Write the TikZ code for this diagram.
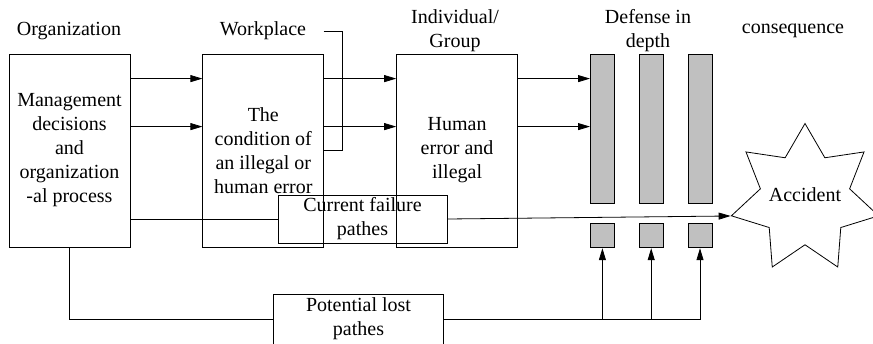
\documentclass[tikz,border=0pt]{standalone}
\usepackage{fontspec}
\setmainfont{Liberation Serif}
\usepackage{xcolor}
\usetikzlibrary{arrows.meta, positioning, shapes.geometric}
\definecolor{bargray}{RGB}{192,192,192}

\begin{document}
\begin{tikzpicture}[x=1pt, y=-1pt,
    font=\rmfamily\fontsize{20}{24}\selectfont,
    box/.style={rectangle, draw, line width=0.8pt, align=center, minimum width=121pt, minimum height=193pt, inner sep=0pt},
    bar/.style={rectangle, draw, fill=bargray, line width=0.8pt, minimum width=24pt, minimum height=149pt, inner sep=0pt},
    plug/.style={bar, minimum height=24pt},
    tag/.style={rectangle, draw, line width=0.8pt, align=center, minimum width=169pt, minimum height=48pt, inner sep=0pt},
    wire/.style={line width=0.8pt},
    arrow/.style={-{Triangle[length=12pt, width=7pt]}, line width=0.8pt}
]
\useasboundingbox (0,0) rectangle (873,343);

% headings
\node (orglabel) at (69,31) {Organization};
\node (wlabel) at (263,31) {Workplace};
\node[align=center] (ilabel) at (455,31) {Individual/\\Group};
\node[align=center] (dlabel) at (648,31) {Defense in\\depth};
\node (clabel) at (793,31) {consequence};

% main boxes
\node[box] (org) at (69.5,150.5) {Management\\decisions\\and\\organization\\-al process};
\node[box, right=72pt of org] (work) {The\\condition of\\an illegal or\\human error};
\node[box, right=72pt of work] (indiv) {Human\\error and\\illegal};

% defense layers
\node[bar, right=72pt of indiv.north east, anchor=north west] (bar1) {};
\node[bar, right=24pt of bar1] (bar2) {};
\node[bar, right=24pt of bar2] (bar3) {};
\node[plug, below=20pt of bar1] (sq1) {};
\node[plug, below=20pt of bar2] (sq2) {};
\node[plug, below=20pt of bar3] (sq3) {};

\node[star, star points=7, star point ratio=1.65, draw, line width=0.8pt, minimum size=151pt, inner sep=0pt,
      label={[yshift=4pt]center:Accident}] (acc) at (805,199) {};

% failure paths
\node[tag] (cur) at (362.5,219) {Current failure\\pathes};
\node[align=center, minimum width=169pt, minimum height=48pt, inner sep=0pt] (pot) at (358.5,319) {Potential lost\\pathes};
\draw[wire] ([yshift=-20pt]pot.south west) |- (pot.north east) -- ([yshift=-20pt]pot.south east);

\foreach \a/\b in {org/work, work/indiv, indiv/bar1}
  \foreach \d in {25,73}
    \draw[arrow] ([yshift=-\d pt]\a.north east) -- ([yshift=-\d pt]\b.north west);

\draw[wire] ([xshift=14pt]wlabel.east) -| ([xshift=18pt]work.east) -- (work.east);
\draw[wire] (org.east |- cur.west) -- (cur.west);
\draw[arrow] (cur.east) -- (acc.outer point 3);
\draw[wire] (org.south) |- (pot.west);
\draw[arrow] (pot.east) -| (sq3.south);
\foreach \s in {sq1,sq2}
  \draw[arrow] (\s.south |- pot.east) -- (\s.south);
\end{tikzpicture}
\end{document}
